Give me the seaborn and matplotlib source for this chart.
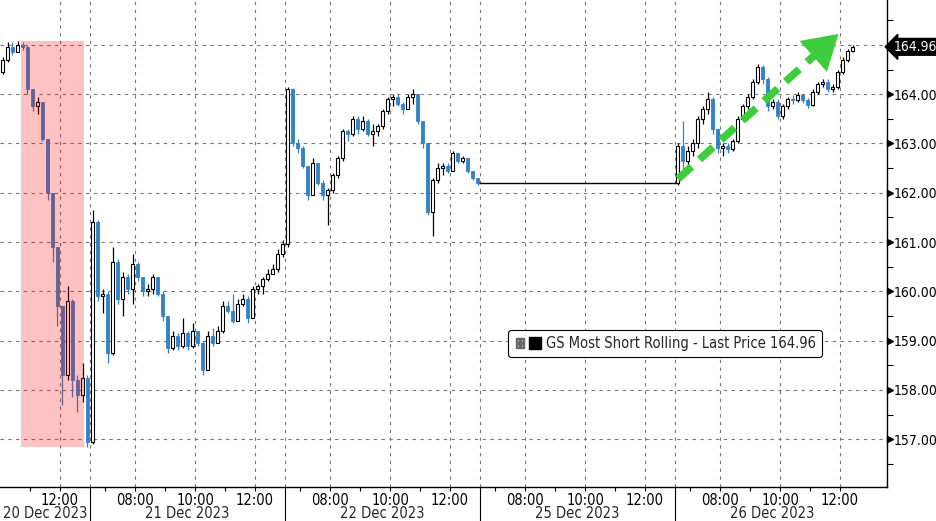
import numpy as np
import pandas as pd
import seaborn as sns
import matplotlib.pyplot as plt
import matplotlib.transforms as mtransforms
from matplotlib.lines import Line2D
from matplotlib.legend_handler import HandlerTuple

# trading days shown on the axis (25 Dec is a holiday, no bars)
days = ["20 Dec 2023", "21 Dec 2023", "22 Dec 2023", "25 Dec 2023", "26 Dec 2023"]
session_open = 6.5    # 06:30
session_close = 13.0  # 13:00
bar_hours = 10 / 60   # 10 minute bars

# 20 Dec, bars from 10:00
dec20_start = 10.0
dec20_first_open = 164.45
dec20_close = [164.7, 164.95, 164.85, 165.0, 164.95, 164.1, 163.75, 163.85, 163.1,
               162.0, 160.9, 159.7, 158.3, 159.8, 158.2, 157.9, 158.25, 156.95]
dec20_high = [164.75, 165.05, 165.05, 165.08, 165.05, 165.0, 164.1, 163.95, 163.85,
              163.1, 162.0, 160.9, 159.7, 160.1, 159.85, 158.3, 158.55, 158.3]
dec20_low = [164.4, 164.65, 164.8, 164.85, 164.9, 164.0, 163.65, 163.6, 163.05,
             161.85, 160.6, 159.3, 157.7, 158.2, 157.85, 157.55, 157.75, 156.85]

# 21 Dec, full session
dec21_close = [161.4, 159.9, 159.95, 158.75, 160.6, 159.85, 160.3, 160.05, 160.55, 160.3,
               160.0, 160.05, 160.3, 159.95, 159.5, 158.85, 159.1, 158.9, 159.15, 158.9,
               159.2, 158.95, 158.4, 159.1, 158.95, 159.2, 159.7, 159.6, 159.4, 159.75,
               159.85, 159.45, 160.05, 160.1, 160.25, 160.35, 160.45, 160.75, 160.95]
dec21_high = [161.65, 161.45, 160.05, 160.0, 160.9, 160.65, 160.4, 160.35, 160.75, 160.6,
              160.3, 160.15, 160.35, 160.3, 160.0, 159.5, 159.2, 159.15, 159.45, 159.2,
              159.35, 159.2, 159.0, 159.2, 159.25, 159.3, 159.8, 159.8, 159.95, 159.85,
              159.95, 159.9, 160.1, 160.15, 160.3, 160.45, 160.55, 160.85, 161.05]
dec21_low = [156.9, 159.8, 159.55, 158.55, 158.7, 159.75, 159.5, 159.95, 159.75, 160.2,
             159.9, 159.9, 159.95, 159.9, 159.4, 158.75, 158.8, 158.8, 158.85, 158.8,
             158.85, 158.9, 158.3, 158.4, 158.9, 158.95, 159.15, 159.55, 159.35, 159.4,
             159.7, 159.35, 159.45, 159.95, 159.95, 160.2, 160.35, 160.4, 160.7]

# 22 Dec, full session
dec22_close = [164.1, 163.0, 162.9, 162.55, 161.95, 162.6, 162.2, 161.95, 162.05, 162.35,
               162.7, 163.25, 163.2, 163.5, 163.3, 163.45, 163.2, 163.25, 163.35, 163.65,
               163.9, 163.95, 163.8, 163.7, 163.95, 164.0, 163.45, 163.0, 161.6, 162.25,
               162.5, 162.55, 162.45, 162.8, 162.65, 162.7, 162.45, 162.3, 162.2]
dec22_high = [164.15, 164.12, 163.1, 162.95, 162.55, 162.7, 162.6, 162.25, 162.1, 162.4,
              162.75, 163.3, 163.3, 163.55, 163.55, 163.55, 163.5, 163.4, 163.4, 163.7,
              163.95, 164.0, 164.0, 163.85, 164.0, 164.1, 164.0, 163.45, 163.0, 162.3,
              162.6, 162.6, 162.6, 162.85, 162.8, 162.75, 162.7, 162.45, 162.3]
dec22_low = [160.9, 162.95, 162.8, 162.5, 161.85, 161.95, 162.15, 161.85, 161.35, 162.0,
             162.3, 162.65, 163.05, 163.15, 163.2, 163.25, 163.15, 162.95, 163.15, 163.3,
             163.6, 163.75, 163.75, 163.6, 163.7, 163.8, 163.4, 162.9, 161.55, 161.12,
             162.2, 162.35, 162.4, 162.45, 162.6, 162.6, 162.4, 162.25, 162.15]

# 26 Dec, bars up to 12:30
dec26_close = [162.95, 162.65, 162.85, 163.0, 163.5, 163.7, 163.9, 163.3, 162.9, 162.95,
               162.88, 163.05, 163.5, 163.75, 163.95, 164.25, 164.55, 164.3, 163.75, 163.85,
               163.55, 163.75, 163.9, 163.88, 163.98, 163.88, 163.78, 164.05, 164.2, 164.25,
               164.1, 164.15, 164.45, 164.7, 164.87, 164.96]
dec26_high = [163.0, 163.45, 162.95, 163.1, 163.55, 163.75, 164.04, 163.95, 163.3, 163.0,
              163.0, 163.1, 163.55, 163.8, 164.0, 164.3, 164.62, 164.6, 164.35, 163.9,
              163.9, 163.8, 163.95, 163.98, 164.05, 164.0, 163.92, 164.1, 164.25, 164.3,
              164.3, 164.2, 164.5, 164.75, 164.92, 165.0]
dec26_low = [162.15, 162.45, 162.45, 162.75, 162.9, 163.4, 163.6, 163.2, 162.8, 162.75,
             162.8, 162.85, 163.0, 163.45, 163.7, 163.9, 164.2, 164.2, 163.65, 163.7,
             163.5, 163.5, 163.7, 163.8, 163.85, 163.82, 163.72, 163.75, 164.0, 164.15,
             164.05, 164.05, 164.1, 164.4, 164.65, 164.85]

last_price = 164.96
series_name = "GS Most Short Rolling - Last Price"

# highlighted sell-off on 20 Dec (clock hours)
shade_from, shade_to = 10.7, 12.8
# green trend arrow on 26 Dec: (clock hour, price)
arrow_start = (6.6, 162.28)
arrow_base = (11.3, 164.87)
arrow_tip = (11.95, 165.22)

time_ticks = {0: [12], 1: [8, 10, 12], 2: [8, 10, 12], 3: [8, 10, 12], 4: [8, 10, 12]}
price_ticks = list(range(157, 166))

blue = "#3282c8"
green = "#3ccc3c"
grid_col = "#777777"


def pos(day_idx, hour):
    # continuous axis that only counts session hours
    return day_idx * (session_close - session_open) + (hour - session_open)


def day_frame(day_idx, start, close, high, low):
    n = len(close)
    return pd.DataFrame({
        "day": day_idx,
        "x": [pos(day_idx, start + (i + 0.5) * bar_hours) for i in range(n)],
        "close": close, "high": high, "low": low,
    })


df = pd.concat([
    day_frame(0, dec20_start, dec20_close, dec20_high, dec20_low),
    day_frame(1, session_open, dec21_close, dec21_high, dec21_low),
    day_frame(2, session_open, dec22_close, dec22_high, dec22_low),
    day_frame(4, session_open, dec26_close, dec26_high, dec26_low),
], ignore_index=True)
df["open"] = df["close"].shift(1).fillna(dec20_first_open)
df["up"] = df["close"] >= df["open"]

sns.set_style("white")
plt.rcParams["font.family"] = ["Liberation Sans Narrow", "DejaVu Sans"]
plt.rcParams["font.stretch"] = "condensed"

fig = plt.figure(figsize=(9.36, 5.21), dpi=100)
ax = fig.add_axes([0, 34 / 521, 887 / 936, 487 / 521])

x_left = pos(0, dec20_start)
x_right = x_left + 887 / 30
ax.set_xlim(x_left, x_right)
ax.set_ylim(156.03, 165.91)

# grid
for p in price_ticks:
    ax.axhline(p, color=grid_col, lw=0.8, ls=(0, (3, 4)), zorder=0)
grid_x = []
for d, hours in time_ticks.items():
    grid_x += [pos(d, h) for h in hours]
    if d > 0:
        grid_x.append(pos(d, session_open))
for gx in grid_x:
    ax.axvline(gx, color=grid_col, lw=0.8, ls=(0, (3, 4)), zorder=0)

# holiday: price held flat from 22 Dec close to 26 Dec open
hold = pd.DataFrame({"x": [df.loc[df.day == 2, "x"].max(), df.loc[df.day == 4, "x"].min()],
                     "price": [dec22_close[-1], dec22_close[-1]]})
sns.lineplot(data=hold, x="x", y="price", color="black", lw=1, ax=ax, zorder=1)

# candles
w = bar_hours * 0.72
up = df[df.up]
dn = df[~df.up]
ax.vlines(up.x, up.low, up.high, color="black", lw=0.9, zorder=2)
ax.vlines(dn.x, dn.low, dn.high, color=blue, lw=0.9, zorder=2)
body_up = np.maximum(up.close - up.open, 0.02)
body_dn = np.maximum(dn.open - dn.close, 0.02)
ax.bar(up.x, body_up, bottom=up.open, width=w, color="white", edgecolor="black", lw=0.8, zorder=3)
ax.bar(dn.x, body_dn, bottom=dn.close, width=w, color=blue, edgecolor=blue, lw=0.6, zorder=3)

# highlighted sell-off
d20 = df[df.day == 0]
ax.fill_between([pos(0, shade_from), pos(0, shade_to)], d20.low.min(), d20.high.max(),
                color="red", alpha=0.24, lw=0, zorder=4)

# trend arrow
x0, y0 = pos(4, arrow_start[0]), arrow_start[1]
xb, yb = pos(4, arrow_base[0]), arrow_base[1]
xt, yt = pos(4, arrow_tip[0]), arrow_tip[1]
ax.plot([x0, xb], [y0, yb], color=green, lw=5.5, ls=(0, (2.4, 1.4)), solid_capstyle="butt", zorder=5)
ax.annotate("", xy=(xt, yt), xytext=(xb, yb),
            arrowprops=dict(arrowstyle="-|>,head_length=0.9,head_width=0.55",
                            color=green, lw=0, shrinkA=0, shrinkB=0, mutation_scale=27),
            zorder=5)

# spines
for s in ["left", "top"]:
    ax.spines[s].set_visible(False)
for s in ["right", "bottom"]:
    ax.spines[s].set_color("black")
    ax.spines[s].set_linewidth(1)

# y axis on the right
ax.yaxis.tick_right()
ax.set_yticks(price_ticks)
ax.set_yticklabels([f"{p:.2f}" if p < 165 else "" for p in price_ticks])
ax.set_yticks(np.arange(156.5, 166, 1.0), minor=True)
ax.tick_params(axis="y", which="major", length=0, pad=4.5, labelsize=10, colors="black")
ax.tick_params(axis="y", which="minor", right=True, length=4, width=0.8, color="black")
ytrans = mtransforms.blended_transform_factory(ax.transAxes, ax.transData)
ax.plot([1.0035] * (len(price_ticks) - 1), price_ticks[:-1], ls="none", marker=">",
        ms=4, color="black", transform=ytrans, clip_on=False)

# last price tag
ax.annotate(f"{last_price:.2f}", xy=(1, last_price), xycoords=ytrans,
            xytext=(5, 0), textcoords="offset points", ha="left", va="center",
            color="white", fontsize=10, annotation_clip=False,
            bbox=dict(boxstyle="larrow,pad=0.1", fc="black", ec="black"))

# x axis: session times and date rows
xt_pos, xt_lab = [], []
for d, hours in time_ticks.items():
    for h in hours:
        xt_pos.append(pos(d, h))
        xt_lab.append(f"{h:02d}:00")
ax.set_xticks(xt_pos)
ax.set_xticklabels(xt_lab)
minor_x = [pos(d, h) for d in range(5) for h in range(7, 13) if pos(d, h) > x_left]
ax.set_xticks(minor_x, minor=True)
ax.tick_params(axis="x", which="major", bottom=True, length=3, width=0.8, pad=1,
               labelsize=10.5, colors="black")
ax.tick_params(axis="x", which="minor", bottom=True, length=3, width=0.8, color="black")

xtrans = mtransforms.blended_transform_factory(ax.transData, ax.transAxes)
for d, name in enumerate(days):
    start = max(pos(d, session_open), x_left)
    end = pos(d, session_close)
    ax.text((start + end) / 2, -27 / 487, name, transform=xtrans, ha="center",
            va="center", fontsize=10.5)
    if d > 0:
        ax.plot([pos(d, session_open)] * 2, [0, -34 / 487], color="black", lw=0.8,
                transform=xtrans, clip_on=False)

# legend
box_icon = Line2D([], [], ls="none", marker="$\\boxplus$", color="#666666", ms=7)
square = Line2D([], [], ls="none", marker="s", color="black", ms=8)
leg = ax.legend([(box_icon, square)], [f"{series_name} {last_price:.2f}"],
                handler_map={tuple: HandlerTuple(ndivide=None, pad=0.2)},
                loc="center", bbox_to_anchor=(0.75, 0.294), fontsize=10.5,
                frameon=True, fancybox=True, framealpha=1, edgecolor="black",
                handlelength=1.8, handletextpad=0.4, borderpad=0.4)
leg.get_frame().set_linewidth(0.8)

ax.set_xlabel("")
ax.set_ylabel("")
fig.savefig("out.png", dpi=100)
